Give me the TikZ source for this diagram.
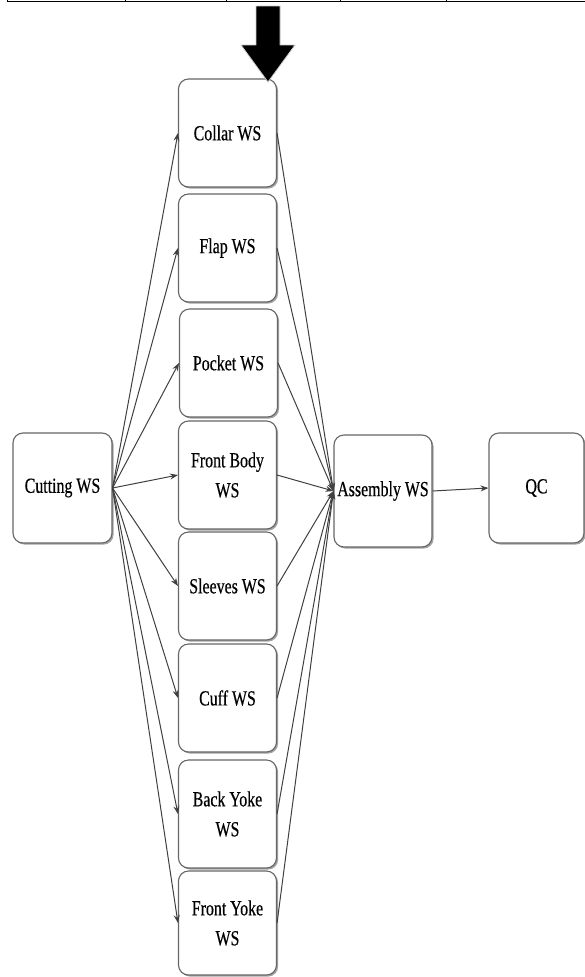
\documentclass[tikz,border=0pt]{standalone}
\usepackage{fontspec}
\newfontfamily\boxfont[FakeStretch=0.74,FakeBold=0.4]{Liberation Serif}
\usetikzlibrary{arrows.meta,shadows}
\tikzset{
  wsbox/.style={draw=black!60, line width=1.1pt, fill=white, rounded corners=10pt,
    align=center, inner sep=2pt, font=\boxfont\fontsize{21.5}{30}\selectfont,
    drop shadow={shadow xshift=1.6pt, shadow yshift=-1.6pt, fill=black!45, opacity=0.8}},
  mid/.style={wsbox, minimum width=98pt, minimum height=108pt},
  conn/.style={draw=black!75, line width=1pt, -{Stealth[length=8pt,width=6pt]}},
  tableline/.style={draw=black, line width=1pt}
}
\begin{document}
\begin{tikzpicture}[x=1pt,y=-1pt]
\useasboundingbox (0,0) rectangle (585,977);
% table remnant at the top
\draw[tableline] (7,1.5) -- (585,1.5);
\foreach \xx in {7,125,226,340,446} \draw[tableline] (\xx,0) -- (\xx,1.5);
% nodes
\node[wsbox, minimum width=99pt, minimum height=110pt] (cut) at (62.5,488) {Cutting WS};
\node[mid] (collar) at (227.5,133) {Collar WS};
\node[mid] (flap) at (227.5,248) {Flap WS};
\node[mid] (pocket) at (228.5,363) {Pocket WS};
\node[mid] (front) at (227.5,475) {Front Body\\WS};
\node[mid] (sleeves) at (227.5,586) {Sleeves WS};
\node[mid] (cuff) at (227.5,698) {Cuff WS};
\node[mid] (back) at (227.5,814) {Back Yoke\\WS};
\node[mid, minimum height=104pt] (fyoke) at (227.5,923) {Front Yoke\\WS};
\node[wsbox, minimum width=98pt, minimum height=112pt] (asm) at (383,491) {Assembly WS};
\node[wsbox, minimum width=95pt, minimum height=110pt] (qc) at (536.5,488) {QC};
% connectors
\foreach \n in {collar,flap,pocket,front,sleeves,cuff,back,fyoke} {
  \draw[conn] (cut.east) -- (\n.west);
  \draw[conn] (\n.east) -- (asm.west);
}
\draw[conn] (asm.east) -- (qc.west);
% big down arrow, drawn on top
\fill[black, draw=black!20, line width=0.8pt] (256,6) -- (280,6) -- (280,45) -- (295,45) -- (268,82) -- (241,45) -- (256,45) -- cycle;
\end{tikzpicture}
\end{document}
